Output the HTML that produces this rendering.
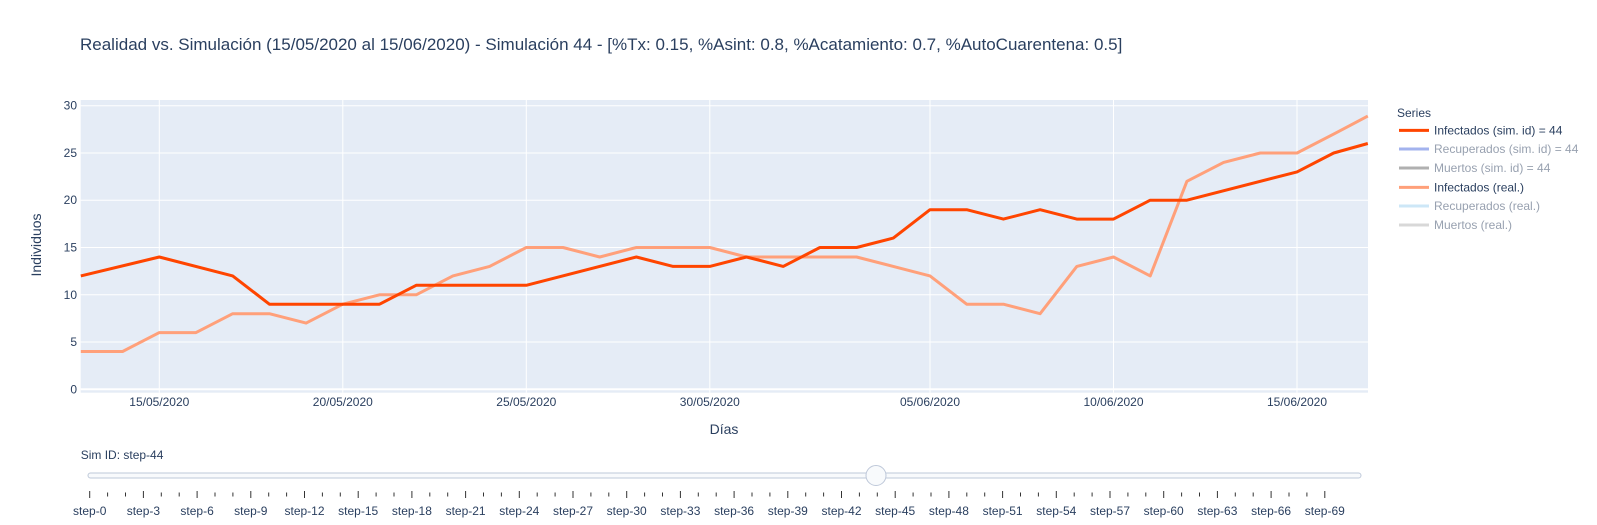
<!DOCTYPE html>
<html><head><meta charset="utf-8">
<style>
html,body{margin:0;padding:0;background:#fff;}
svg{display:block;font-family:"Liberation Sans",Arial,sans-serif;}
</style></head>
<body>
<svg id="s" width="1597" height="525" xmlns="http://www.w3.org/2000/svg">
<rect x="0" y="0" width="1597" height="525" fill="#fff"/>
<text x="80" y="50" font-size="17" fill="#2a3f5f">Realidad vs. Simulación (15/05/2020 al 15/06/2020) - Simulación 44 - [%Tx: 0.15, %Asint: 0.8, %Acatamiento: 0.7, %AutoCuarentena: 0.5]</text>
<rect x="80.7" y="100" width="1287.3" height="292.7" fill="#e5ecf6"/>
<g id="grid"></g>
<g id="lines"></g>
<text transform="translate(41,245) rotate(-90)" text-anchor="middle" font-size="14" fill="#2a3f5f">Individuos</text>
<text x="724" y="434" text-anchor="middle" font-size="14" fill="#2a3f5f">Días</text>
<g font-size="12">
<text x="1397" y="117" fill="#2a3f5f">Series</text>
<line x1="1399" x2="1429" y1="130.4" y2="130.4" stroke="#ff4500" stroke-width="3"/>
<text x="1434" y="134.5" fill="#2a3f5f">Infectados (sim. id) = 44</text>
<line x1="1399" x2="1429" y1="149" y2="149" stroke="#a3b3ee" stroke-width="3"/>
<text x="1434" y="153" fill="#98a1b0">Recuperados (sim. id) = 44</text>
<line x1="1399" x2="1429" y1="168" y2="168" stroke="#b0b0b0" stroke-width="3"/>
<text x="1434" y="172" fill="#98a1b0">Muertos (sim. id) = 44</text>
<line x1="1399" x2="1429" y1="187.4" y2="187.4" stroke="#ffa07a" stroke-width="3"/>
<text x="1434" y="191.5" fill="#2a3f5f">Infectados (real.)</text>
<line x1="1399" x2="1429" y1="206" y2="206" stroke="#cde7f7" stroke-width="3"/>
<text x="1434" y="210" fill="#98a1b0">Recuperados (real.)</text>
<line x1="1399" x2="1429" y1="225" y2="225" stroke="#d8d8d8" stroke-width="3"/>
<text x="1434" y="229" fill="#98a1b0">Muertos (real.)</text>
</g>
<text x="80.7" y="459" font-size="12" fill="#2a3f5f">Sim ID: step-44</text>
<rect x="88" y="473" width="1273" height="5" rx="2.5" fill="#f8fafc" stroke="#bec8d9" stroke-width="1"/>
<g id="ticks"></g>
<circle cx="876" cy="475.5" r="10" fill="#f8fafc" stroke="#bec8d9" stroke-width="1"/>
</svg>
<script>
var NS="http://www.w3.org/2000/svg";
function el(p,t,a,txt){var e=document.createElementNS(NS,t);for(var k in a)e.setAttribute(k,a[k]);if(txt!=null)e.textContent=txt;document.getElementById(p).appendChild(e);return e;}
function X(d){return 159.3+36.7*d;}
function Y(v){return 389.3-9.453*v;}
var L=80.7,R=1368;
for(var v=0;v<=30;v+=5){
  el("grid","line",{x1:L,x2:R,y1:Y(v),y2:Y(v),stroke:"#fff","stroke-width":v==0?2:1});
  el("grid","text",{x:77,y:Y(v)+4,"text-anchor":"end","font-size":12,fill:"#2a3f5f"},String(v));
}
var dates=["15/05/2020","20/05/2020","25/05/2020","30/05/2020","05/06/2020","10/06/2020","15/06/2020"];
var dd=[0,5,10,15,21,26,31];
for(var i=0;i<7;i++){
  el("grid","line",{x1:X(dd[i]),x2:X(dd[i]),y1:100,y2:392.7,stroke:"#fff","stroke-width":1});
  el("grid","text",{x:X(dd[i]),y:406,"text-anchor":"middle","font-size":12,fill:"#2a3f5f"},dates[i]);
}
var sim=[[-2.14,12],[0,14],[2,12],[3,9],[6,9],[7,11],[10,11],[13,14],[14,13],[15,13],[16,14],[17,13],[18,15],[19,15],[20,16],[21,19],[22,19],[23,18],[24,19],[25,18],[26,18],[27,20],[28,20],[31,23],[32,25],[32.93,26]];
var real=[[-2.14,4],[-1,4],[0,6],[1,6],[2,8],[3,8],[4,7],[5,9],[6,10],[7,10],[8,12],[9,13],[10,15],[11,15],[12,14],[13,15],[14,15],[15,15],[16,14],[17,14],[18,14],[19,14],[20,13],[21,12],[22,9],[23,9],[24,8],[25,13],[26,14],[27,12],[28,22],[29,24],[30,25],[31,25],[32,27],[32.93,28.9]];
function path(a){return a.map(function(p,i){return (i?"L":"M")+X(p[0]).toFixed(1)+","+Y(p[1]).toFixed(1);}).join("");}
el("lines","path",{d:path(real),fill:"none",stroke:"#ffa07a","stroke-width":3,"stroke-linejoin":"round"});
el("lines","path",{d:path(sim),fill:"none",stroke:"#ff4500","stroke-width":3,"stroke-linejoin":"round"});
for(var s=0;s<70;s++){
  var x=89.7+17.9*s, maj=(s%3==0);
  el("ticks","line",{x1:x,x2:x,y1:maj?491:492.5,y2:maj?498:496.5,stroke:"#333","stroke-width":1});
  if(maj) el("ticks","text",{x:x,y:515,"text-anchor":"middle","font-size":12,fill:"#2a3f5f"},"step-"+s);
}
</script>
</body></html>
